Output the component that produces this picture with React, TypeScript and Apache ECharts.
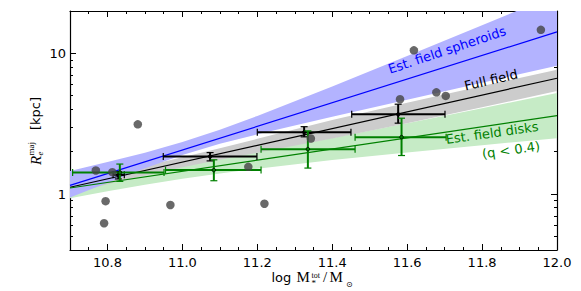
import React, { useEffect, useRef } from "react";
import * as echarts from "echarts";

const lg = (v: number) => Math.log10(v);

// Axis extents and ticks
const X_MIN = 10.7;
const X_MAX = 12.0;
const Y_MIN = 0.4;
const Y_MAX = 20;
const X_TICKS = [10.8, 11.0, 11.2, 11.4, 11.6, 11.8, 12.0];
const X_MINOR = [10.75, 10.85, 10.9, 10.95, 11.05, 11.1, 11.15, 11.25, 11.3, 11.35, 11.45, 11.5, 11.55, 11.65, 11.7, 11.75, 11.85, 11.9, 11.95];
const Y_TICKS = [1, 10];
const Y_MINOR = [0.4, 0.5, 0.6, 0.7, 0.8, 0.9, 2, 3, 4, 5, 6, 7, 8, 9, 20];

// Individual galaxies
const galaxyMass = [10.769, 10.813, 10.795, 10.791, 10.881, 10.968, 11.176, 11.219, 11.343, 11.581, 11.618, 11.678, 11.703, 11.957];
const galaxyRadius = [1.47, 1.43, 0.89, 0.62, 3.13, 0.836, 1.56, 0.853, 2.48, 4.72, 10.5, 5.28, 4.98, 14.7];

// Fit bands
const bandX = [10.7, 10.8, 10.9, 11.0, 11.1, 11.2, 11.4, 11.6, 11.8, 12.0];
const spheroidUpper = [1.456, 1.686, 1.969, 2.342, 2.867, 3.592, 5.814, 9.57, 15.85, 26.3];
const spheroidLower = [0.944, 1.205, 1.524, 1.891, 2.273, 2.656, 3.545, 4.687, 6.187, 8.153];
const fullUpper = [1.213, 1.384, 1.582, 1.824, 2.116, 2.467, 3.354, 4.448, 5.853, 7.638];
const fullLower = [1.005, 1.172, 1.355, 1.549, 1.754, 1.963, 2.479, 3.184, 4.132, 5.404];
const diskUpper = [1.303, 1.398, 1.507, 1.64, 1.8, 1.999, 2.504, 3.188, 4.067, 5.221];
const diskLower = [0.934, 1.045, 1.164, 1.284, 1.4, 1.514, 1.742, 1.972, 2.223, 2.496];

// Fit lines
const lineX = [10.7, 12.0];
const spheroidFit = [1.151, 14.22];
const fullFit = [1.117, 6.65];
const diskFit = [1.104, 3.606];

// Binned medians
const fullBinX = [10.829, 11.074, 11.325, 11.576];
const fullBinXLo = [10.815, 10.949, 11.2, 11.452];
const fullBinXHi = [10.845, 11.199, 11.45, 11.701];
const fullBinY = [1.37, 1.85, 2.75, 3.69];
const fullBinYLo = [1.28, 1.72, 2.55, 3.19];
const fullBinYHi = [1.445, 1.97, 3.01, 4.35];

const diskBinX = [10.833, 11.084, 11.335, 11.585];
const diskBinXLo = [10.707, 10.955, 11.21, 11.461];
const diskBinXHi = [10.951, 11.21, 11.461, 11.704];
const diskBinY = [1.42, 1.479, 2.085, 2.537];
const diskBinYLo = [1.229, 1.243, 1.529, 1.878];
const diskBinYHi = [1.633, 1.751, 2.81, 3.46];

const BLUE = "#0000ff";
const GREEN = "#008000";
const SANS = "DejaVu Sans";
const SERIF = "Liberation Serif";

function bandSeries(upper: number[], lower: number[], color: string, z: number) {
  return {
    type: "custom",
    xAxisIndex: 0,
    yAxisIndex: 0,
    silent: true,
    z,
    data: [[bandX[0], lg(lower[0])]],
    encode: { x: 0, y: 1 },
    renderItem: (params: any, api: any) => {
      const pts: number[][] = [];
      bandX.forEach((x, i) => pts.push(api.coord([x, lg(upper[i])])));
      for (let i = bandX.length - 1; i >= 0; i--) pts.push(api.coord([bandX[i], lg(lower[i])]));
      const cs = params.coordSys;
      return {
        type: "polygon",
        shape: { points: pts },
        style: { fill: color, stroke: null },
        clipPath: { type: "rect", shape: { x: cs.x, y: cs.y, width: cs.width, height: cs.height } },
      };
    },
  };
}

function lineSeries(vals: number[], color: string) {
  return {
    type: "line",
    xAxisIndex: 0,
    yAxisIndex: 0,
    silent: true,
    z: 4,
    showSymbol: false,
    data: lineX.map((x, i) => [x, lg(vals[i])]),
    lineStyle: { color, width: 1.2 },
  };
}

function errSeries(
  xs: number[], xlo: number[], xhi: number[], ys: number[], ylo: number[], yhi: number[],
  color: string, markerFill: string, z: number
) {
  return {
    type: "custom",
    xAxisIndex: 0,
    yAxisIndex: 0,
    silent: true,
    z,
    data: xs.map((x, i) => [x, lg(ys[i]), xlo[i], xhi[i], lg(ylo[i]), lg(yhi[i])]),
    encode: { x: [0, 2, 3], y: [1, 4, 5] },
    renderItem: (params: any, api: any) => {
      const x = api.value(0), y = api.value(1);
      const c = api.coord([x, y]);
      const pl = api.coord([api.value(2), y]);
      const ph = api.coord([api.value(3), y]);
      const pb = api.coord([x, api.value(4)]);
      const pt = api.coord([x, api.value(5)]);
      const cap = 3.5;
      const s = { stroke: color, lineWidth: 2 };
      const sc = { stroke: color, lineWidth: 1.2 };
      return {
        type: "group",
        children: [
          { type: "line", shape: { x1: pl[0], y1: c[1], x2: ph[0], y2: c[1] }, style: s },
          { type: "line", shape: { x1: pl[0], y1: c[1] - cap, x2: pl[0], y2: c[1] + cap }, style: sc },
          { type: "line", shape: { x1: ph[0], y1: c[1] - cap, x2: ph[0], y2: c[1] + cap }, style: sc },
          { type: "line", shape: { x1: c[0], y1: pb[1], x2: c[0], y2: pt[1] }, style: s },
          { type: "line", shape: { x1: c[0] - cap, y1: pb[1], x2: c[0] + cap, y2: pb[1] }, style: sc },
          { type: "line", shape: { x1: c[0] - cap, y1: pt[1], x2: c[0] + cap, y2: pt[1] }, style: sc },
          { type: "circle", shape: { cx: c[0], cy: c[1], r: 1.8 }, style: { fill: markerFill, stroke: "#000", lineWidth: 0.8 } },
        ],
      };
    },
  };
}

function xAxisDef(position: string, ticks: number[], len: number, showLine: boolean, showLabel: boolean) {
  return {
    type: "value",
    position,
    min: X_MIN,
    max: X_MAX,
    splitLine: { show: false },
    axisLine: { show: showLine, onZero: false, lineStyle: { color: "#000", width: 1.2 } },
    axisTick: { show: true, inside: true, length: len, customValues: ticks, lineStyle: { color: "#000", width: 1 } },
    axisLabel: {
      show: showLabel,
      customValues: X_TICKS,
      margin: 6,
      color: "#000",
      fontSize: 13,
      fontFamily: SANS,
      formatter: (v: number) => v.toFixed(1),
    },
  };
}

function yAxisDef(position: string, ticks: number[], len: number, showLine: boolean, showLabel: boolean) {
  return {
    type: "value",
    position,
    min: lg(Y_MIN),
    max: lg(Y_MAX),
    splitLine: { show: false },
    axisLine: { show: showLine, onZero: false, lineStyle: { color: "#000", width: 1.2 } },
    axisTick: { show: true, inside: true, length: len, customValues: ticks.map(lg), lineStyle: { color: "#000", width: 1 } },
    axisLabel: {
      show: showLabel,
      customValues: Y_TICKS.map(lg),
      margin: 4,
      color: "#000",
      fontSize: 13,
      fontFamily: SANS,
      formatter: (v: number) => String(Math.round(Math.pow(10, v))),
    },
  };
}

export default function App() {
  const ref = useRef<HTMLDivElement>(null);
  useEffect(() => {
    if (!ref.current) return;
    const chart = echarts.init(ref.current, null, { renderer: "svg" });
    const txt = (text: string, x: number, y: number, size: number, family: string, color: string, extra: any = {}) => ({
      type: "text",
      x,
      y,
      z: 100,
      silent: true,
      style: { text, fill: color, fontSize: size, fontFamily: family, align: "left", verticalAlign: "middle", ...extra },
    });
    const option: any = {
      animation: false,
      backgroundColor: "#fff",
      grid: { left: 70, right: 24, top: 11, bottom: 41, outerBoundsMode: "none" },
      xAxis: [
        xAxisDef("bottom", X_TICKS, 6, true, true),
        xAxisDef("bottom", X_MINOR, 3, false, false),
        xAxisDef("top", X_TICKS, 6, true, false),
        xAxisDef("top", X_MINOR, 3, false, false),
      ],
      yAxis: [
        yAxisDef("left", Y_TICKS, 6, true, true),
        yAxisDef("left", Y_MINOR, 3, false, false),
        yAxisDef("right", Y_TICKS, 6, true, false),
        yAxisDef("right", Y_MINOR, 3, false, false),
      ],
      series: [
        bandSeries(diskUpper, diskLower, "#c6ebc6", 1),
        bandSeries(fullUpper, fullLower, "#cccccc", 2),
        bandSeries(spheroidUpper, spheroidLower, "#b3b3ff", 3),
        lineSeries(spheroidFit, BLUE),
        lineSeries(fullFit, "#000"),
        lineSeries(diskFit, GREEN),
        errSeries(fullBinX, fullBinXLo, fullBinXHi, fullBinY, fullBinYLo, fullBinYHi, "#000", "#000", 5),
        errSeries(diskBinX, diskBinXLo, diskBinXHi, diskBinY, diskBinYLo, diskBinYHi, GREEN, GREEN, 6),
        {
          type: "scatter",
          xAxisIndex: 0,
          yAxisIndex: 0,
          silent: true,
          z: 10,
          symbolSize: 8.5,
          itemStyle: { color: "#444444" },
          data: galaxyMass.map((m, i) => [m, lg(galaxyRadius[i])]),
        },
      ],
      graphic: {
        elements: [
          { ...txt("Est. field spheroids", 447, 50, 13, SANS, BLUE, { align: "center" }), rotation: 0.323 },
          { ...txt("Full field", 491, 80, 13, SANS, "#000", { align: "center" }), rotation: 0.227 },
          { ...txt("Est. field disks", 492, 133, 13, SANS, GREEN, { align: "center" }), rotation: 0.14 },
          { ...txt("(q < 0.4)", 511, 150, 13, SANS, GREEN, { align: "center" }), rotation: 0.14 },
          // x axis title
          txt("log", 271.5, 277, 13, SANS, "#000"),
          txt("M", 296.5, 277, 15, SERIF, "#000"),
          txt("tot", 311.5, 275, 8, SERIF, "#000"),
          txt("*", 311.5, 283, 9, SERIF, "#000"),
          txt("/", 323, 277, 15, SERIF, "#000"),
          txt("M", 329.5, 277, 15, SERIF, "#000"),
          txt("\u2299", 346, 284, 8, SANS, "#000"),
          // y axis title
          {
            type: "group",
            x: 35,
            y: 131,
            rotation: Math.PI / 2,
            z: 100,
            children: [
              txt("R", -34, 1, 15, SERIF, "#000", { fontStyle: "italic" }),
              txt("e", -24.5, 5, 9, SERIF, "#000", { fontStyle: "italic" }),
              txt("maj", -24.5, -4, 9, SERIF, "#000"),
              txt("[kpc]", 1, 0, 13, SANS, "#000"),
            ],
          },
        ],
      },
    };
    chart.setOption(option);
    return () => chart.dispose();
  }, []);
  return (
    <div
      ref={ref}
      style={{ position: "fixed", left: 0, top: 0, width: 581, height: 291, background: "#fff" }}
    />
  );
}
